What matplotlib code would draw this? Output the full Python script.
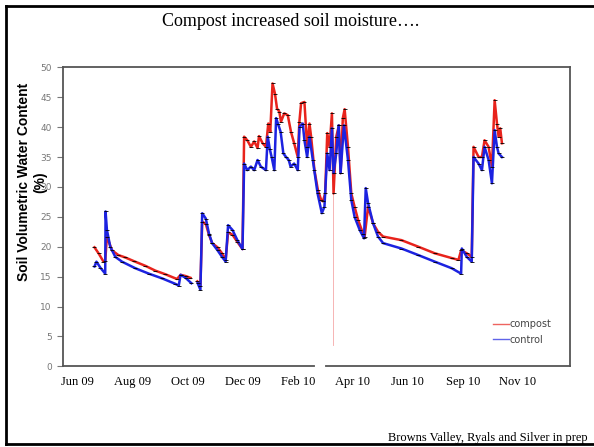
import numpy as np
import matplotlib
matplotlib.use("Agg")
import matplotlib.pyplot as plt
from matplotlib.lines import Line2D

# days since 1 Jun 2009, volumetric water content (%)
compost_day = [18.5, 23, 28.5, 30.4, 32.3, 37.9, 45, 52.7, 62, 75, 86, 97, 110, 114, 119.5, 125,
               np.nan,
               132.6, 136, 138, 142, 145.5, 149, 155, 160, 164, 166.7, 171.6, 177, 182.7,
               184.5, 188, 192, 195.7, 199.4, 201, 205, 208.7, 211.3, 213.5, 216, 218.7, 221,
               223.5, 225.4, 229, 232.9, 236.5, 240, 244, 245.8, 247.7, 251.4, 254.4, 257,
               258.8, 262.5, 266.3, 270, 271.9, 274.4, 276.7, 279.3, 281.9, 283.7, 286.7,
               289.7, 291.5, 294, 296, 299.7, 303.4, 307, 310.9, 316.4, 318.2, 322, 327.6,
               333, 338.7, 359, 377.7, 396, 414.8, 422.3, 425.2, 431.5, 437, 439, 444.6,
               448.3, 451.2, 455.7, 459.4, 462.4, 465, 466.8, 468.6, 470.5]
compost_vwc = [19.9, 18.9, 17.5, 17.6, 21.7, 19.4, 18.6, 18.2, 17.6, 16.8, 16.0, 15.4, 14.6, 15.3, 15.1, 14.8,
               np.nan,
               14.2, 13.5, 24.2, 23.8, 22.0, 20.6, 19.9, 18.9, 17.8, 22.4, 22.0, 20.8, 19.6,
               38.4, 37.8, 36.7, 37.6, 36.5, 38.5, 37.3, 36.7, 40.6, 39.2, 47.3, 45.6, 43.1,
               42.6, 40.9, 42.3, 42.0, 39.2, 37.3, 35.0, 40.9, 44.0, 44.2, 36.7, 40.6,
               38.4, 32.8, 29.5, 27.8, 27.6, 28.9, 39.0, 36.7, 42.3, 28.9, 38.4,
               40.3, 32.3, 41.5, 43.0, 36.7, 28.9, 26.7, 24.5, 22.2, 21.7, 26.7, 23.9,
               22.5, 21.7, 21.1, 20.0, 18.9, 18.1, 17.8, 19.4, 18.9, 18.3, 36.7, 35.0,
               35.0, 37.8, 36.7, 33.4, 44.5, 40.6, 38.4, 39.8, 37.3]

control_day = [18.5, 20.7, 25, 30.4, 30.8, 32.3, 36, 41.6, 49, 63.8, 78.7, 93.6, 108, 112, 114, 119.5, 126,
               np.nan,
               133, 136, 138, 142, 145.5, 149, 155, 160, 164, 166.7, 171.6, 177, 182.7,
               184.5, 188, 192, 195.7, 199.4, 203, 208.7, 210.7, 213, 215, 218, 220, 222,
               225, 228, 231, 234, 236, 240, 244, 246, 249.5, 251.4, 254.4, 257, 260.7,
               266, 270.7, 273.6, 276.7, 279.3, 281.9, 283.7, 286.7, 289.3, 291.5, 295.2,
               299.7, 303.4, 307, 312.7, 317.5, 319.4, 322, 327.6, 333, 338.7, 359, 377.7,
               396, 414.8, 425.2, 426, 431.5, 437, 439, 444.6, 448.3, 451.2, 455.7, 459.4,
               462.4, 465, 466.8, 470.5]
control_vwc = [16.7, 17.5, 16.5, 15.5, 25.9, 22.8, 20.0, 18.3, 17.5, 16.4, 15.5, 14.7, 13.8, 13.5, 15.3, 14.8, 13.9,
               np.nan,
               13.9, 12.8, 25.6, 24.7, 22.2, 20.6, 19.4, 18.3, 17.5, 23.6, 22.8, 21.1, 19.6,
               33.9, 32.8, 33.4, 32.8, 34.5, 33.4, 32.8, 38.4, 36.3, 35.0, 32.8, 41.5, 40.6,
               39.2, 35.6, 35.0, 34.5, 33.4, 33.9, 32.8, 40.1, 40.6, 37.8, 35.0, 38.4, 34.5,
               28.9, 25.6, 26.7, 35.6, 32.8, 39.8, 32.3, 35.6, 40.3, 32.3, 40.3,
               34.5, 27.8, 25.0, 22.8, 21.4, 29.8, 27.3, 23.9, 21.7, 20.6, 19.7, 18.6,
               17.5, 16.4, 15.5, 19.7, 18.3, 17.5, 35.0, 33.9, 32.8, 36.7, 34.5, 30.6,
               39.5, 36.7, 35.6, 35.0]

# single faulty compost reading in Feb 10
dropout_day = [282.7, 282.7]
dropout_vwc = [29.0, 3.6]

tick_days = [0, 61, 122, 183, 244, 305, 366, 427, 488]
tick_labels = ["Jun 09", "Aug 09", "Oct 09", "Dec 09", "Feb 10", "Apr 10", "Jun 10", "Sep 10", "Nov 10"]

fig = plt.figure(figsize=(5.94, 4.47), dpi=100)
ax = fig.add_axes([0.1061, 0.1805, 0.8535, 0.6689])

ax.plot(dropout_day, dropout_vwc, color="#f5a8a8", lw=0.6, zorder=1)
ax.plot(compost_day, compost_vwc, color="#e8231c", lw=1.8, label="compost", zorder=2)
ax.plot(control_day, control_vwc, color="#1c22e0", lw=1.8, label="control", zorder=3)
ax.plot(compost_day, compost_vwc, ls="none", marker="_", ms=2.5, mew=0.6, color="black", zorder=4)
ax.plot(control_day, control_vwc, ls="none", marker="_", ms=2.5, mew=0.6, color="black", zorder=4)

ax.set_xlim(-16.4, 546)
ax.set_ylim(0, 50)
ax.set_yticks(np.arange(0, 51, 5))
ax.set_xticks(tick_days)
ax.set_xticklabels(tick_labels, family="Liberation Serif", fontsize=9)
ax.tick_params(axis="x", length=0, pad=7)
ax.tick_params(axis="y", length=4, color="#777777", labelcolor="#777777", labelsize=6.5, pad=4)
for s in ax.spines.values():
    s.set_color("#555555")
    s.set_linewidth(1.3)

# small break in the bottom axis line
ax.plot([265, 272], [0, 0], color="white", lw=3, clip_on=False, zorder=6)

leg = ax.legend(loc="center left", bbox_to_anchor=(0.83, 0.115), frameon=False,
                fontsize=7, handlelength=1.7, handletextpad=0.0, labelspacing=0.6)
for t in leg.get_texts():
    t.set_color("#444444")
for h in leg.get_lines():
    h.set_linewidth(1.0)
    h.set_alpha(0.7)

fig.text(32 / 594, 1 - 182 / 447, "Soil Volumetric Water Content\n(%)", rotation=90,
         ha="center", va="center", multialignment="center",
         family="Liberation Sans", weight="bold", fontsize=10)
fig.text(291 / 594, 1 - 22 / 447, "Compost increased soil moisture\u2026.", ha="center", va="center",
         family="Liberation Serif", fontsize=13)
fig.text(388 / 594, 1 - 438 / 447, "Browns Valley, Ryals and Silver in prep", ha="left", va="center",
         family="Liberation Serif", fontsize=9)

# slide frame
W, H = 594.0, 447.0
for xs, ys in [([6 / W, 6 / W], [1 - 6 / H, 1 - 444 / H]),
               ([6 / W, 1.0], [1 - 6 / H, 1 - 6 / H]),
               ([6 / W, 1.0], [1 - 444 / H, 1 - 444 / H])]:
    fig.add_artist(Line2D(xs, ys, transform=fig.transFigure, color="black", lw=2))

fig.savefig("out.png", dpi=100)
